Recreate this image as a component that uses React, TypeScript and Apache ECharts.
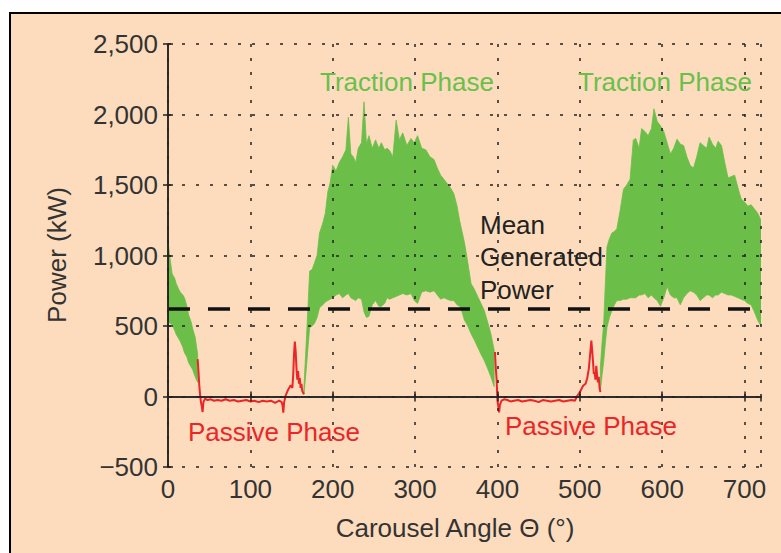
import React, { useEffect, useRef } from "react";
import * as echarts from "echarts";

// ---------- data ----------
const xTicks = [0, 100, 200, 300, 400, 500, 600, 700];
const yTicks = [-500, 0, 500, 1000, 1500, 2000, 2500];
const meanPower = 620;

// Traction (green) envelope, segment 1 (start of first cycle)
const gAngle1 = [0, 2, 5, 8, 10, 13, 15, 18, 20, 23, 25, 28, 30, 33, 36];
const gHigh1 = [1100, 1000, 870, 840, 800, 760, 740, 720, 700, 640, 580, 530, 480, 420, 300];
const gLow1 = [540, 520, 510, 470, 440, 410, 390, 350, 310, 280, 240, 210, 190, 140, 100];

// Traction envelope, segment 2 (first traction phase)
const gAngle2 = [165, 168, 170, 172, 175, 178, 181, 184, 188, 191, 194, 197, 200, 204, 208, 212, 216, 219, 222, 225, 228, 231, 235, 238, 241, 244, 248, 252, 256, 259, 263, 266, 269, 273, 277, 281, 285, 290, 295, 299, 303, 308, 313, 318, 323, 327, 331, 335, 339, 343, 347, 351, 354, 357, 360, 364, 368, 372, 376, 380, 384, 388, 392, 396];
const gHigh2 = [60, 400, 640, 890, 900, 950, 1000, 1160, 1230, 1300, 1450, 1520, 1640, 1600, 1660, 1700, 1750, 1980, 1720, 1700, 1660, 1760, 1800, 2090, 1790, 1850, 1760, 1820, 1760, 1800, 1750, 1760, 1745, 1700, 1960, 1820, 1870, 1780, 1830, 1800, 1850, 1760, 1750, 1700, 1680, 1620, 1570, 1540, 1510, 1480, 1440, 1350, 1250, 1170, 1090, 950, 800, 760, 710, 660, 610, 530, 445, 330];
const gLow2 = [15, 200, 350, 490, 500, 520, 560, 630, 650, 670, 680, 690, 700, 720, 730, 700, 720, 730, 700, 690, 680, 700, 690, 600, 560, 570, 650, 680, 640, 640, 660, 700, 690, 700, 710, 720, 730, 720, 730, 680, 660, 740, 750, 740, 750, 720, 690, 700, 690, 680, 680, 650, 640, 600, 540, 500, 445, 400, 350, 300, 255, 200, 140, 70];

// Traction envelope, segment 3 (second traction phase)
const gAngle3 = [525, 527, 529, 531, 533, 536, 539, 542, 545, 549, 553, 557, 561, 565, 568, 572, 575, 579, 583, 587, 590, 594, 598, 602, 606, 610, 614, 618, 622, 626, 630, 634, 638, 642, 646, 650, 654, 657, 661, 665, 668, 672, 676, 680, 684, 688, 692, 696, 700, 704, 708, 712, 716, 720];
const gHigh3 = [210, 380, 520, 800, 1060, 1120, 1160, 1170, 1190, 1320, 1470, 1500, 1540, 1820, 1830, 1760, 1900, 1880, 1850, 1900, 2040, 1950, 1920, 1880, 1800, 1720, 1760, 1825, 1790, 1780, 1700, 1640, 1620, 1700, 1800, 1780, 1760, 1840, 1790, 1760, 1810, 1780, 1660, 1550, 1560, 1570, 1480, 1400, 1380, 1350, 1360, 1330, 1300, 1250];
const gLow3 = [40, 150, 250, 380, 490, 560, 610, 650, 680, 680, 690, 690, 700, 700, 700, 720, 720, 730, 700, 720, 700, 680, 640, 700, 780, 720, 700, 700, 650, 700, 730, 750, 740, 720, 680, 700, 720, 720, 700, 720, 720, 740, 730, 720, 720, 710, 700, 690, 680, 660, 650, 600, 540, 500];

// Passive (red) phases
const rAngle1 = [36, 37, 38, 39, 40, 41, 42, 43, 45, 48, 52, 56, 60, 65, 70, 75, 80, 85, 90, 95, 100, 105, 110, 115, 120, 125, 130, 135, 138, 139, 140, 141, 143, 146, 149, 151, 152, 153, 154, 155, 156, 157, 158, 159, 160, 161, 162, 163, 165];
const rPower1 = [265, 180, 80, 10, -40, -70, -110, -40, -15, -25, -20, -30, -25, -30, -20, -30, -25, -35, -30, -25, -35, -30, -40, -30, -35, -30, -45, -30, -40, -60, -115, -40, 10, 50, 80, 60, 150, 300, 390, 320, 200, 120, 180, 90, 130, 60, 90, 40, 16];
const rAngle2 = [397, 398, 399, 400, 401, 402, 403, 405, 408, 412, 416, 420, 425, 430, 435, 440, 445, 450, 455, 460, 465, 470, 475, 480, 485, 490, 494, 497, 500, 504, 507, 509, 511, 512, 513, 514, 515, 516, 517, 518, 519, 520, 521, 522, 523, 524, 525];
const rPower2 = [316, 200, 124, -30, -67, -112, -60, -30, -20, -25, -35, -30, -25, -35, -30, -25, -30, -40, -25, -30, -35, -30, -25, -35, -30, -25, -30, 5, 30, 76, 90, 130, 200, 266, 330, 397, 330, 250, 160, 173, 120, 218, 150, 100, 140, 60, 31];

// ---------- styles ----------
const GREEN = "#6BBE47";
const GREEN_TEXT = "#68C04A";
const RED = "#EC2528";
const PEACH = "#FCDCBD";
const FONT = '"Liberation Sans", Arial, Helvetica, sans-serif';

const segments = [
  { a: gAngle1, hi: gHigh1, lo: gLow1 },
  { a: gAngle2, hi: gHigh2, lo: gLow2 },
  { a: gAngle3, hi: gHigh3, lo: gLow3 },
];

function pairs(a: number[], v: number[]) {
  return a.map((x, i) => [x, v[i]]);
}

function fmtY(v: number) {
  const s = Math.abs(v).toLocaleString("en-US");
  return v < 0 ? "\u2212" + s : s;
}

export default function App() {
  const ref = useRef<HTMLDivElement>(null);

  useEffect(() => {
    if (!ref.current) return;
    const chart = echarts.init(ref.current, null, { renderer: "svg" });

    // one item per segment: [segIndex, startAngle, endAngle, minLow, maxHigh]
    const bandData = segments.map((s, i) => [
      i,
      s.a[0],
      s.a[s.a.length - 1],
      Math.min(...s.lo),
      Math.max(...s.hi),
    ]);

    const axisLineStyle = { color: "#222", width: 1.5 };
    const xMin = xTicks[0];
    const xMax = 720;
    const xInt = xTicks[1] - xTicks[0];
    const yMin = yTicks[0];
    const yMax = yTicks[yTicks.length - 1];
    const yInt = yTicks[1] - yTicks[0];

    const textEl = (text: string, x: number, y: number, fill: string, align = "left") => ({
      type: "text",
      z: 100,
      x,
      y,
      style: { text, fill, font: `26px ${FONT}`, textAlign: align, textVerticalAlign: "middle" },
    });

    const option: any = {
      animation: false,
      backgroundColor: "#ffffff",
      grid: { left: 168, top: 44, right: 20, bottom: 86, containLabel: false },
      xAxis: [
        {
          type: "value",
          min: xMin,
          max: xMax,
          interval: xInt,
          position: "bottom",
          z: 5,
          axisLine: { show: true, lineStyle: axisLineStyle },
          axisTick: { show: true, inside: true, length: 5, lineStyle: axisLineStyle },
          axisLabel: {
            show: true,
            color: "#333",
            fontSize: 26,
            fontFamily: FONT,
            margin: 9,
            showMaxLabel: false,
            formatter: (v: number) => (xTicks.indexOf(v) >= 0 ? String(v) : ""),
          },
          splitLine: { show: true, lineStyle: { color: "#222", width: 1.5, type: [3, 11] } },
        },
        {
          type: "value",
          min: xMin,
          max: xMax,
          interval: xInt,
          position: "top",
          z: 5,
          axisLine: { show: true, lineStyle: axisLineStyle },
          axisTick: { show: true, inside: true, length: 5, lineStyle: axisLineStyle },
          axisLabel: { show: false },
          splitLine: { show: false },
        },
      ],
      yAxis: [
        {
          type: "value",
          min: yMin,
          max: yMax,
          interval: yInt,
          position: "left",
          z: 5,
          axisLine: { show: true, lineStyle: axisLineStyle },
          axisTick: { show: true, inside: true, length: 5, lineStyle: axisLineStyle },
          axisLabel: {
            show: true,
            color: "#333",
            fontSize: 26,
            fontFamily: FONT,
            margin: 10,
            formatter: fmtY,
          },
          splitLine: { show: true, lineStyle: { color: "#222", width: 1.5, type: [3, 11] } },
        },
        {
          type: "value",
          min: yMin,
          max: yMax,
          interval: yInt,
          position: "right",
          z: 5,
          axisLine: { show: true, lineStyle: axisLineStyle },
          axisTick: { show: true, inside: true, length: 5, lineStyle: axisLineStyle },
          axisLabel: { show: false },
          splitLine: { show: false },
        },
      ],
      graphic: [
        {
          type: "rect",
          z: -10,
          silent: true,
          shape: { x: 10, y: 13, width: 820, height: 600 },
          style: { fill: PEACH, stroke: "#000", lineWidth: 2 },
        },
        textEl("Traction Phase", 320, 82, GREEN_TEXT),
        textEl("Traction Phase", 578, 82, GREEN_TEXT),
        textEl("Passive Phase", 188, 432, RED),
        textEl("Passive Phase", 505, 426, RED),
        textEl("Mean", 480, 225, "#222"),
        textEl("Generated", 480, 257, "#222"),
        textEl("Power", 480, 290, "#222"),
        textEl("Carousel Angle \u0398 (\u00B0)", 455, 528, "#333", "center"),
        {
          type: "text",
          z: 100,
          x: 57,
          y: 255,
          rotation: Math.PI / 2,
          style: { text: "Power (kW)", fill: "#333", font: `26px ${FONT}`, textAlign: "center", textVerticalAlign: "middle" },
        },
      ],
      series: [
        {
          type: "custom",
          name: "Traction",
          xAxisIndex: 0,
          yAxisIndex: 0,
          clip: true,
          z: 2,
          encode: { x: [1, 2], y: [3, 4] },
          data: bandData,
          renderItem: (params: any, api: any) => {
            const seg = segments[api.value(0)];
            const top = seg.a.map((x, i) => api.coord([x, seg.hi[i]]));
            const bottom = seg.a.map((x, i) => api.coord([x, seg.lo[i]])).reverse();
            return {
              type: "polygon",
              shape: { points: top.concat(bottom) },
              style: { fill: GREEN, stroke: GREEN, lineWidth: 0.8 },
            };
          },
        },
        {
          type: "line",
          name: "Passive 1",
          xAxisIndex: 0,
          yAxisIndex: 0,
          z: 3,
          showSymbol: false,
          symbol: "none",
          data: pairs(rAngle1, rPower1),
          lineStyle: { color: RED, width: 2 },
        },
        {
          type: "line",
          name: "Passive 2",
          xAxisIndex: 0,
          yAxisIndex: 0,
          z: 3,
          showSymbol: false,
          symbol: "none",
          data: pairs(rAngle2, rPower2),
          lineStyle: { color: RED, width: 2 },
        },
        {
          type: "line",
          name: "Mean Generated Power",
          xAxisIndex: 0,
          yAxisIndex: 0,
          z: 4,
          showSymbol: false,
          symbol: "none",
          data: [
            [xMin, meanPower],
            [xMax, meanPower],
          ],
          lineStyle: { color: "#111", width: 3.5, type: [22, 18] },
        },
      ],
    };

    chart.setOption(option);
    return () => chart.dispose();
  }, []);

  return (
    <div
      ref={ref}
      style={{ position: "fixed", left: 0, top: 0, width: 781, height: 553 }}
    />
  );
}
